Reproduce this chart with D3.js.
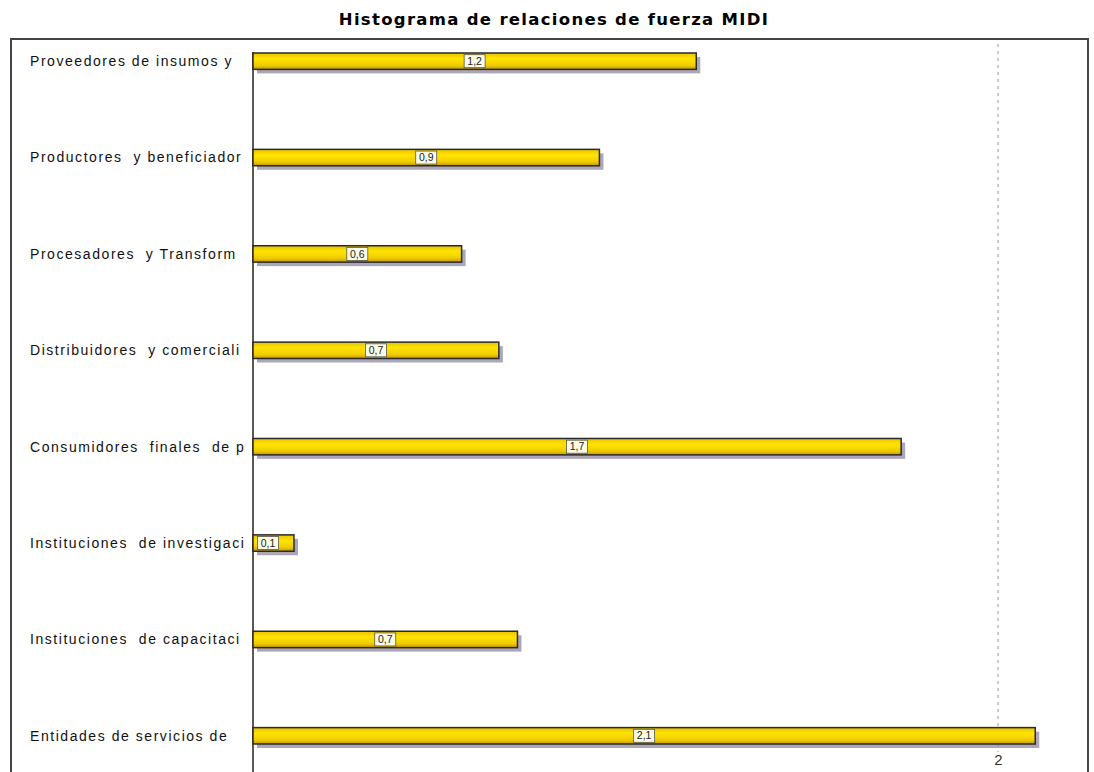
<!DOCTYPE html>
<html><head><meta charset="utf-8">
<script src="https://d3js.org/d3.v7.min.js"></script>
<style>
body{margin:0;background:#fff;}
text{font-family:"Liberation Sans",Arial,sans-serif;}
</style></head>
<body>
<svg width="1094" height="772"></svg>
<script>
const categories = ["Proveedores de insumos y","Productores  y beneficiador","Procesadores  y Transform","Distribuidores  y comerciali","Consumidores  finales  de p","Instituciones  de investigaci","Instituciones  de capacitaci","Entidades de servicios de"];
const values = [1.19, 0.93, 0.56, 0.66, 1.74, 0.11, 0.71, 2.10];
const tickValues = [2];

const svg = d3.select("svg");
const left = 253, right = 998;
const x = d3.scaleLinear().domain([0,2]).range([left,right]);
const y = d3.scaleBand().domain(categories).range([53,744]).paddingInner(0.83).paddingOuter(0);

const defs = svg.append("defs");
const grad = defs.append("linearGradient").attr("id","yel").attr("x1",0).attr("y1",0).attr("x2",0).attr("y2",1);
grad.append("stop").attr("offset","0%").attr("stop-color","#e8c200");
grad.append("stop").attr("offset","35%").attr("stop-color","#ffe400");
grad.append("stop").attr("offset","75%").attr("stop-color","#f0cc00");
grad.append("stop").attr("offset","100%").attr("stop-color","#c49a00");

// title
svg.append("text").attr("x",554).attr("y",25).attr("text-anchor","middle")
  .style("font-family","'DejaVu Sans',Verdana,sans-serif").style("font-weight","bold").style("font-size","16.5px")
  .style("letter-spacing","1.3px")
  .text("Histograma de relaciones de fuerza MIDI");

// frame
svg.append("rect").attr("x",11).attr("y",39).attr("width",1077).attr("height",760)
  .attr("fill","none").attr("stroke","#444").attr("stroke-width",2);

// grid line at 2
svg.selectAll(".grid").data(tickValues).join("line").attr("class","grid")
  .attr("x1",d=>x(d)).attr("x2",d=>x(d)).attr("y1",44).attr("y2",752)
  .attr("stroke","#999").attr("stroke-dasharray","3,4");

// axis
const ax = svg.append("g").attr("transform","translate(0,752)")
  .call(d3.axisBottom(x).tickValues(tickValues).tickSize(0).tickPadding(2).tickFormat(d3.format("d")));
ax.select(".domain").remove();
ax.selectAll("text").style("font-size","15px").attr("fill","#333").style("font-family","'Liberation Sans',Arial,sans-serif");

svg.append("line").attr("x1",left).attr("x2",left).attr("y1",52).attr("y2",772)
  .attr("stroke","#222").attr("stroke-width",1.5);

const g = svg.append("g");
// shadows
g.selectAll(".sh").data(values).join("rect").attr("class","sh")
  .attr("x",left+4).attr("y",(d,i)=>y(categories[i])+4)
  .attr("width",d=>x(d)-left).attr("height",y.bandwidth())
  .attr("fill","#8f88a0").attr("opacity",0.75);
g.selectAll(".bar").data(values).join("rect").attr("class","bar")
  .attr("x",left).attr("y",(d,i)=>y(categories[i]))
  .attr("width",d=>x(d)-left).attr("height",y.bandwidth())
  .attr("fill","url(#yel)").attr("stroke","#2a2a2a").attr("stroke-width",1.5);

// value labels
const fmt = d=>d3.format(".1f")(d).replace(".",",");
const lab = g.selectAll(".lab").data(values).join("g").attr("class","lab")
  .attr("transform",(d,i)=>{
    const w = x(d)-left;
    const cx = w < 60 ? left+15 : left + w/2;
    return `translate(${cx},${y(categories[i])+y.bandwidth()/2})`;
  });
lab.append("rect").attr("x",-10.5).attr("y",-6.5).attr("width",21).attr("height",13)
  .attr("fill","#fbfbe6").attr("stroke","#555").attr("stroke-width",0.8);
lab.append("text").attr("text-anchor","middle").attr("dy","0.35em")
  .style("font-size","10.5px").attr("fill","#222").text(fmt);

// category labels
svg.selectAll(".cat").data(categories).join("text").attr("class","cat")
  .attr("x",30).attr("y",d=>y(d)+y.bandwidth()/2).attr("dy","0.35em")
  .style("font-size","14px").style("letter-spacing","1.55px").style("white-space","pre").attr("fill","#111")
  .text(d=>d);
</script>
</body></html>
